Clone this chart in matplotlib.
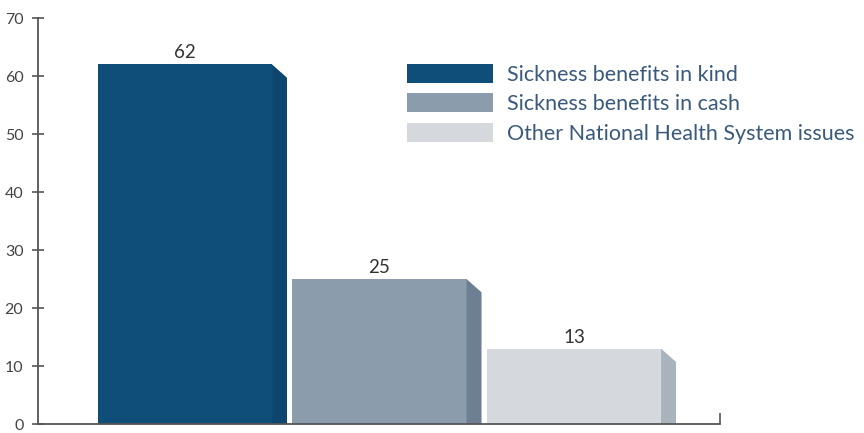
import numpy as np
import matplotlib
matplotlib.use("Agg")
import matplotlib.pyplot as plt
from matplotlib.patches import Polygon, Patch

plt.rcParams['font.family'] = ['Lato', 'DejaVu Sans']

categories = ["Sickness benefits in kind", "Sickness benefits in cash",
              "Other National Health System issues"]
values = [62, 25, 13]
yticks = [0, 10, 20, 30, 40, 50, 60, 70]

front_colors = ["#0f4e79", "#8b9cad", "#d5d9dd"]
side_colors = ["#0d4670", "#6d8093", "#a9b3be"]

fig = plt.figure(figsize=(8.64, 4.33), dpi=100)
ax = fig.add_axes([38/864, 9/433, 682/864, 406/433])

front_w = 0.895
side_w = 0.077
bevel = 2.3
pos = np.arange(len(values))
for i, (v, fc, sc) in enumerate(zip(values, front_colors, side_colors)):
    x0 = pos[i]
    ax.bar(x0, v, width=front_w, align='edge', color=fc, linewidth=0, zorder=2)
    x1 = x0 + front_w
    side = Polygon([(x1, 0), (x1, v), (x1 + side_w, v - bevel), (x1 + side_w, 0)],
                   closed=True, facecolor=sc, edgecolor='none', zorder=2)
    ax.add_patch(side)
    ax.text(x0 + front_w / 2, v + 0.5, str(v), ha='center', va='bottom',
            fontsize=13.5, color='#333333')

ax.set_xlim(-0.308, 3.198)
ax.set_ylim(0, 70)
ax.set_yticks(yticks)
ax.set_xticks([3.198])
ax.set_xticklabels([''])
for s in ['top', 'right']:
    ax.spines[s].set_visible(False)
for s in ['left', 'bottom']:
    ax.spines[s].set_color('#555555')
    ax.spines[s].set_linewidth(1.3)
ax.tick_params(axis='y', direction='inout', length=9, width=1.2, color='#555555',
               labelsize=11.5, labelcolor='#444444', pad=6)
ax.tick_params(axis='x', direction='in', length=8, width=1.2, color='#555555')

fs = 15.5
px = fs * 100 / 72
handles = [Patch(facecolor=c, edgecolor='none') for c in front_colors]
leg = ax.legend(handles, categories, loc='upper left',
                bbox_to_anchor=((407 - 38) / 682, (424 - 64) / 406),
                frameon=False, fontsize=fs, handlelength=86 / px, handleheight=21 / px,
                labelspacing=0.4, handletextpad=14 / px, borderaxespad=0, borderpad=0)
for t in leg.get_texts():
    t.set_color('#3a5a7c')

fig.savefig("out.png", dpi=100)
